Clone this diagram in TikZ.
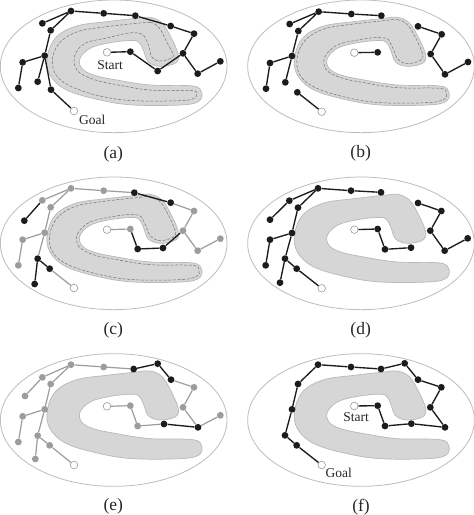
\documentclass[tikz,border=0pt]{standalone}
\usepackage{fontspec}
\setmainfont{Liberation Serif}
\definecolor{blobfill}{HTML}{D6D6D6}
\definecolor{blobline}{HTML}{B8B8B8}
\definecolor{dashline}{HTML}{707070}
\definecolor{ringline}{HTML}{BDBDBD}
\definecolor{midgray}{HTML}{9C9C9C}
\definecolor{inkdark}{HTML}{1C1C1C}
\tikzset{
 blk/.style={circle,fill=inkdark,inner sep=0pt,minimum size=6.8pt},
 gry/.style={circle,fill=midgray,inner sep=0pt,minimum size=6.8pt},
 hole/.style={circle,draw=black!40,fill=white,line width=.6pt,inner sep=0pt,minimum size=7.6pt},
 eb/.style={draw=inkdark,line width=1.35pt},
 eg/.style={draw=midgray,line width=1.2pt},
 ring/.style={draw=ringline,line width=.8pt},
 blobst/.style={fill=blobfill,draw=blobline,line width=.7pt},
 dsh/.style={draw=dashline,line width=.5pt,dash pattern=on 3pt off 1.6pt},
 lab/.style={font=\fontsize{13.5}{14}\selectfont,inner sep=0pt,text=black!85},
 captext/.style={font=\fontsize{17.5}{18}\selectfont,inner sep=0pt,text=black!85},
}
\newcommand{\ringblob}[2]{%
 \begin{scope}[shift={(#1,#2)}]
 \draw[ring] (341,199) ellipse [x radius=340,y radius=199];
 \path[blobst] plot[smooth cycle,tension=.6] coordinates {(410,55)(450,52)(485,68)(512,110)(535,165)(525,190)(480,199)(445,186)(430,150)(415,125)(380,122)(320,130)(270,145)(240,175)(245,205)(280,225)(350,240)(450,255)(578,258)(605,278)(595,305)(540,315)(400,315)(300,300)(200,270)(150,225)(142,170)(168,112)(230,78)(320,65)};
 \end{scope}}
\newcommand{\innerdash}[2]{%
 \draw[dsh,shift={(#1,#2)}] plot[smooth cycle,tension=.6] coordinates {(410,62)(450,59)(480,74)(505,114)(526,163)(519,181)(480,191)(452,178)(438,148)(424,120)(412,114)(380,113)(320,122)(266,137)(232,172)(237,209)(280,233)(350,248)(450,263)(577,265)(597,279)(590,298)(540,308)(400,308)(300,293)(204,263)(157,224)(150,170)(176,118)(233,86)(320,72)};}
\begin{document}
\begin{tikzpicture}[x=.33333pt,y=-.33333pt]
\useasboundingbox (0,0) rectangle (1422,1545);
\fill[white] (0,0) rectangle (1422,1545);
% (a)
\begin{scope}
\ringblob{0}{0}
\draw[dsh] plot[smooth cycle,tension=.6] coordinates {(410,70)(450,67)(478,84)(498,122)(520,165)(510,176)(480,183)(456,172)(447,140)(432,108)(412,99)(380,100)(320,114)(255,130)(224,168)(232,212)(280,238)(350,254)(450,270)(575,272)(590,284)(580,296)(540,302)(400,302)(300,288)(210,258)(166,222)(158,172)(182,125)(236,94)(320,80)};
\node[hole] (aS) at (321,157) {};
\node[hole] (aG) at (222,333) {};
\foreach \n/\x/\y in {1/391/155,2/473/213,3/549/160,4/593/221,5/661/184,6/582/101,7/512/78,8/406/47,9/311/40,10/213/33,11/127/70,12/152/91,13/134/167,14/68/187,15/55/264,16/113/245,17/153/269}
  \node[blk] (a\n) at (\x,\y) {};
\draw[eb] (aS)--(a1) (a1)--(a2) (a2)--(a3) (a3)--(a4) (a4)--(a5) (a3)--(a6) (a6)--(a7) (a7)--(a8) (a8)--(a9) (a9)--(a10) (a10)--(a11) (a10)--(a12) (a12)--(a13) (a13)--(a14) (a14)--(a15) (a13)--(a16) (a13)--(a17) (a17)--(aG);
\node[lab] (aStart) at (330,194) {Start};
\node[lab] (aGoal) at (277,360) {Goal};
\node[captext] (acap) at (340,462) {(a)};
\end{scope}
% (b)
\begin{scope}[shift={(711,0)}]
\ringblob{31}{0}
\innerdash{31}{0}
\node[hole] (bS) at (352,158) {};
\node[hole] (bG) at (254,335) {};
\foreach \n/\x/\y in {1/422/157,2/181/277,3/158/72,4/245/35,5/343/42,6/433/47,7/184/93,8/165/168,9/99/189,10/87/266,11/145/247,12/543/79,13/614/103,14/581/162,15/624/223,16/693/186}
  \node[blk] (b\n) at (\x,\y) {};
\draw[eb] (bS)--(b1) (b2)--(bG) (b3)--(b4) (b4)--(b5) (b5)--(b6) (b4)--(b7) (b7)--(b8) (b8)--(b9) (b9)--(b10) (b8)--(b11) (b12)--(b13) (b13)--(b14) (b14)--(b15) (b15)--(b16);
\node[captext] (bcap) at (371,460) {(b)};
\end{scope}
% (c)
\begin{scope}[shift={(0,510)}]
\ringblob{0}{21}
\innerdash{0}{21}
\node[hole] (cS) at (321,179) {};
\node[hole] (cG) at (222,354) {};
\foreach \n/\x/\y in {1/391/177,2/213/55,3/311/62,4/127/91,5/152/112,6/134/188,7/68/209,8/55/286,9/582/123,10/549/182,11/593/242,12/661/206}
  \node[gry] (c\n) at (\x,\y) {};
\foreach \n/\x/\y in {13/403/68,14/512/98,15/113/266,16/149/296,17/104/342,18/413/237,19/489/234,20/73/152}
  \node[blk] (c\n) at (\x,\y) {};
\draw[eg] (cS)--(c1) (c10)--(c9) (c9)--(c14) (c13)--(c3) (c3)--(c2) (c2)--(c4) (c2)--(c5) (c5)--(c6) (c6)--(c15) (c6)--(c7) (c7)--(c8) (c16)--(cG) (c10)--(c11) (c11)--(c12);
\draw[eb] (c1)--(c18) (c18)--(c19) (c19)--(c10) (c14)--(c13) (c4)--(c20) (c15)--(c16) (c15)--(c17);
\node[captext] (ccap) at (340,482) {(c)};
\end{scope}
% (d)
\begin{scope}[shift={(711,510)}]
\ringblob{31}{21}
\node[hole] (dS) at (352,179) {};
\node[hole] (dG) at (254,355) {};
\foreach \n/\x/\y in {1/422/177,2/444/238,3/522/233,4/243/55,5/342/62,6/432/67,7/157/92,8/99/149,9/183/113,10/165/189,11/99/209,12/86/286,13/144/266,14/129/338,15/179/296,16/543/99,17/613/123,18/580/182,19/623/242,20/692/205}
  \node[blk] (d\n) at (\x,\y) {};
\draw[eb] (dS)--(d1) (d1)--(d2) (d2)--(d3) (d4)--(d5) (d5)--(d6) (d4)--(d7) (d7)--(d8) (d4)--(d9) (d9)--(d10) (d10)--(d11) (d11)--(d12) (d10)--(d13) (d13)--(d14) (d13)--(d15) (d15)--(dG) (d16)--(d17) (d17)--(d18) (d18)--(d19) (d19)--(d20);
\node[captext] (dcap) at (371,482) {(d)};
\end{scope}
% (e)
\begin{scope}[shift={(0,1020)}]
\ringblob{0}{41}
\node[hole] (eS) at (321,199) {};
\node[hole] (eG) at (222,375) {};
\foreach \n/\x/\y in {1/391/197,2/413/258,3/661/226,4/549/202,5/582/142,6/311/81,7/213/74,8/127/112,9/75/168,10/152/132,11/134/208,12/68/229,13/55/306,14/113/287,15/106/357,16/149/316}
  \node[gry] (e\n) at (\x,\y) {};
\foreach \n/\x/\y in {17/492/252,18/594/262,19/513/119,20/473/71,21/401/87}
  \node[blk] (e\n) at (\x,\y) {};
\draw[eg] (eS)--(e1) (e1)--(e2) (e2)--(e17) (e18)--(e3) (e18)--(e4) (e4)--(e5) (e5)--(e19) (e21)--(e6) (e6)--(e7) (e7)--(e8) (e8)--(e9) (e7)--(e10) (e10)--(e11) (e11)--(e14) (e11)--(e12) (e12)--(e13) (e14)--(e15) (e14)--(e16) (e16)--(eG);
\draw[eb] (e17)--(e18) (e19)--(e20) (e20)--(e21);
\node[captext] (ecap) at (340,500) {(e)};
\end{scope}
% (f)
\begin{scope}[shift={(711,1020)}]
\ringblob{31}{41}
\node[hole] (fS) at (352,198) {};
\node[hole] (fG) at (254,375) {};
\foreach \n/\x/\y in {1/422/197,2/444/258,3/523/251,4/624/262,5/580/202,6/613/142,7/543/119,8/503/70,9/432/87,10/342/81,11/243/74,12/183/132,13/165/208,14/144/286,15/179/316}
  \node[blk] (f\n) at (\x,\y) {};
\draw[eb] (fS)--(f1) (f1)--(f2) (f2)--(f3) (f3)--(f4) (f4)--(f5) (f5)--(f6) (f6)--(f7) (f7)--(f8) (f8)--(f9) (f9)--(f10) (f10)--(f11) (f11)--(f12) (f12)--(f13) (f13)--(f14) (f14)--(f15) (f15)--(fG);
\node[lab] (fStart) at (357,232) {Start};
\node[lab] (fGoal) at (305,398) {Goal};
\node[captext] (fcap) at (372,503) {(f)};
\end{scope}
\end{tikzpicture}
\end{document}
